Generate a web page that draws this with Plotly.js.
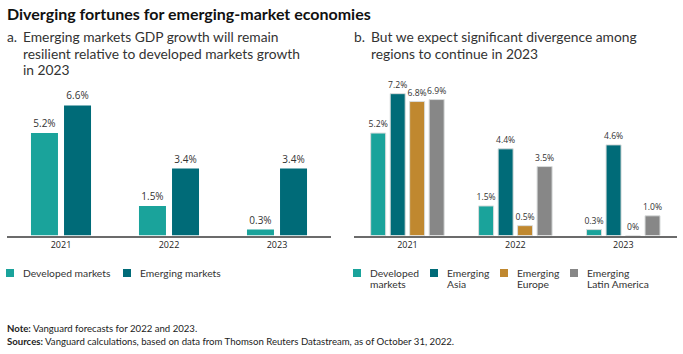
<!DOCTYPE html>
<html>
<head>
<meta charset="utf-8">
<script src="https://cdn.plot.ly/plotly-3.0.1.min.js"></script>
<style>html,body{margin:0;padding:0;background:#fff;}#chart{width:683px;height:354px;}</style>
</head>
<body>
<div id="chart"></div>
<script>
// ---- data ----
const years = ['2021', '2022', '2023'];
const developedLeft = [5.2, 1.5, 0.3];
const emergingLeft = [6.6, 3.4, 3.4];
const developedRight = [5.2, 1.5, 0.3];
const emergingAsia = [7.2, 4.4, 4.6];
const emergingEurope = [6.8, 0.5, 0.0];
const emergingLatAm = [6.9, 3.5, 1.0];
const legendLeft = ['Developed markets', 'Emerging markets'];
const legendRight = ['Developed<br>markets', 'Emerging<br>Asia', 'Emerging<br>Europe', 'Emerging<br>Latin America'];
const subtitleA = ['Emerging markets GDP growth will remain', 'resilient relative to developed markets growth', 'in 2023'];
const subtitleB = ['But we expect significant divergence among', 'regions to continue in 2023'];

const C_DEV = '#1aa39b', C_EM = '#006b78', C_EUR = '#c0882f', C_LAT = '#878787';
const W = 683, H = 354;
const px = x => x / W, py = y => 1 - y / H;
const fmt = v => (v === 0 ? '0%' : v.toFixed(1) + '%');

function bar(y, color, xa, ya, outline, width, offset, fsize) {
  return {
    type: 'bar', x: years, y: y, xaxis: xa, yaxis: ya, width: width, offset: offset,
    marker: {color: color, line: {width: outline ? 1 : 0, color: '#d9dcdc'}},
    text: y.map(fmt), textposition: 'outside', cliponaxis: false, constraintext: 'none',
    textfont: {family: 'Open Sans, sans-serif', size: fsize, color: '#333'},
    hoverinfo: 'skip', showlegend: false
  };
}

const WL = 0.25, WR = 0.139;
const data = [
  bar(developedLeft, C_DEV, 'x', 'y', false, WL, -0.278, 10),
  bar(emergingLeft, C_EM, 'x', 'y', false, WL, 0.028, 10),
  bar(developedRight, C_DEV, 'x2', 'y2', true, WR, -0.341, 8.6),
  bar(emergingAsia, C_EM, 'x2', 'y2', true, WR, -0.160, 8.6),
  bar(emergingEurope, C_EUR, 'x2', 'y2', true, WR, 0.020, 8.6),
  bar(emergingLatAm, C_LAT, 'x2', 'y2', true, WR, 0.201, 8.6)
];

const yTop = 88, yBase = 235.5;
const yMax = (yBase - yTop) / 19.7;
const xBase = {type: 'category', range: [-0.5, 2.5], showline: true, linecolor: '#6b6b6b', linewidth: 2,
  ticks: '', showgrid: false, zeroline: false, fixedrange: true,
  tickfont: {family: 'Open Sans, sans-serif', size: 9, color: '#222'}};
const yBaseAx = {range: [0, yMax], visible: false, showgrid: false, zeroline: false,
  domain: [py(yBase), py(yTop)], fixedrange: true};

const tFont = {family: 'Lato, sans-serif', size: 13.8, color: '#333'};
const lFont = {family: 'Lato, sans-serif', size: 10.3, color: '#333'};
const nFont = {family: 'Lato, sans-serif', size: 9.6, color: '#222'};
const annotations = [];
function txt(text, x, y, font) {
  annotations.push({text: text, x: px(x), y: py(y), xref: 'paper', yref: 'paper', xanchor: 'left', yanchor: 'middle',
    align: 'left', showarrow: false, font: font});
}
txt('<b>Diverging fortunes for emerging-market economies</b>', 5, 13, {family: 'Lato, sans-serif', size: 16, color: '#111'});
txt('a.', 5, 36.7, tFont);
subtitleA.forEach((s, i) => txt(s, 21, 36.7 + i * 16.3, tFont));
txt('b.', 352, 36.7, tFont);
subtitleB.forEach((s, i) => txt(s, 369, 36.7 + i * 16.3, tFont));
txt('<b>Note:</b> Vanguard forecasts for 2022 and 2023.', 5, 328, nFont);
txt('<b>Sources:</b> Vanguard calculations, based on data from Thomson Reuters Datastream, as of October 31, 2022.', 5, 341, nFont);

const shapes = [];
function legendItem(x, textX, color, label) {
  shapes.push({type: 'rect', xref: 'paper', yref: 'paper', x0: px(x), x1: px(x + 8), y0: py(277), y1: py(269),
    fillcolor: color, line: {width: 0}});
  label.split('<br>').forEach((s, i) => txt(s, textX, 273 + i * 11, lFont));
}
legendItem(6, 21, C_DEV, legendLeft[0]);
legendItem(123, 138, C_EM, legendLeft[1]);
legendItem(353, 368, C_DEV, legendRight[0]);
legendItem(430, 445, C_EM, legendRight[1]);
legendItem(500, 515, C_EUR, legendRight[2]);
legendItem(570, 585, C_LAT, legendRight[3]);

const layout = {
  width: W, height: H, margin: {l: 0, r: 0, t: 0, b: 0},
  paper_bgcolor: '#fff', plot_bgcolor: 'rgba(0,0,0,0)',
  barmode: 'overlay',
  showlegend: false,
  xaxis: Object.assign({}, xBase, {domain: [px(7), px(331)], anchor: 'y'}),
  yaxis: Object.assign({}, yBaseAx, {anchor: 'x'}),
  xaxis2: Object.assign({}, xBase, {domain: [px(353.5), px(677.3)], anchor: 'y2'}),
  yaxis2: Object.assign({}, yBaseAx, {anchor: 'x2'}),
  annotations: annotations, shapes: shapes
};

Plotly.newPlot('chart', data, layout, {displayModeBar: false, staticPlot: true});
</script>
</body>
</html>
